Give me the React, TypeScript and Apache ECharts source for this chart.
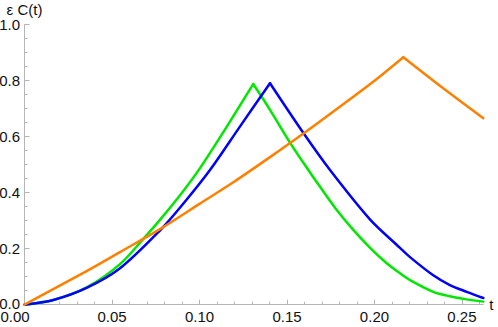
import React, { useEffect, useRef } from "react";
import * as echarts from "echarts";

const X_MAX = 0.2622;
const X_MAJOR = [0, 0.05, 0.1, 0.15, 0.2, 0.25];
const X_MINOR = [0.01, 0.02, 0.03, 0.04, 0.06, 0.07, 0.08, 0.09, 0.11, 0.12, 0.13, 0.14, 0.16, 0.17, 0.18, 0.19, 0.21, 0.22, 0.23, 0.24, 0.26];

const tGreen = [0, 0.0165, 0.0355, 0.0546, 0.0683, 0.0774, 0.09, 0.1, 0.115, 0.1307, 0.1403, 0.1517, 0.1622, 0.1689, 0.178, 0.1879, 0.1975, 0.207, 0.2146, 0.2203, 0.2336, 0.2431, 0.2527, 0.2622];
const vGreen = [0, 0.017, 0.062, 0.145, 0.238, 0.303, 0.40, 0.485, 0.63, 0.788, 0.696, 0.579, 0.481, 0.421, 0.342, 0.267, 0.203, 0.148, 0.112, 0.088, 0.046, 0.03, 0.019, 0.011];

const tBlue = [0, 0.0165, 0.0355, 0.0546, 0.0774, 0.09, 0.106, 0.1231, 0.1403, 0.1593, 0.1746, 0.1974, 0.2146, 0.2203, 0.2336, 0.2431, 0.2527, 0.2622];
const vBlue = [0, 0.017, 0.06, 0.13, 0.265, 0.355, 0.481, 0.636, 0.791, 0.614, 0.481, 0.305, 0.203, 0.17, 0.105, 0.07, 0.046, 0.024];

const tOrange = [0, 0.0355, 0.0546, 0.0774, 0.1, 0.12, 0.1403, 0.16, 0.18, 0.2, 0.2165, 0.2393, 0.2622];
const vOrange = [0, 0.12, 0.188, 0.27, 0.36, 0.44, 0.527, 0.614, 0.706, 0.8, 0.884, 0.773, 0.666];

const SERIES = [
  { t: tGreen, v: vGreen, color: "#00e800" },
  { t: tBlue, v: vBlue, color: "#0000ff" },
  { t: tOrange, v: vOrange, color: "#ff8000" },
];

// split a curve at its peak so the peak stays a sharp corner while each side is smoothed
const splitAtPeak = (t: number[], v: number[]) => {
  let k = 0;
  v.forEach((y, i) => {
    if (y > v[k]) k = i;
  });
  const pts = t.map((x, i) => [x, v[i]]);
  return [pts.slice(0, k + 1), pts.slice(k)];
};

const FONT = "'Liberation Sans', Arial, sans-serif";
const AXIS_COLOR = "#b5b5b5";
const TEXT_COLOR = "#111111";
const FS = 15;

export default function App() {
  const ref = useRef<HTMLDivElement>(null);
  useEffect(() => {
    if (!ref.current) return;
    const chart = echarts.init(ref.current, undefined, { renderer: "svg" });
    const series: any[] = [];
    SERIES.forEach((s) => {
      splitAtPeak(s.t, s.v).forEach((part) => {
        series.push({
          type: "line",
          data: part,
          showSymbol: false,
          smooth: 0.3,
          lineStyle: { color: s.color, width: 2.5, cap: "round", join: "miter" },
          itemStyle: { color: s.color },
        });
      });
    });
    chart.setOption({
      animation: false,
      backgroundColor: "#ffffff",
      grid: { left: 24.5, right: 14.7, top: 24.7, bottom: 22.3, containLabel: false, outerBoundsMode: "none" },
      xAxis: [
        {
          type: "value",
          min: 0,
          max: X_MAX,
          name: "t",
          nameLocation: "end",
          nameGap: 6,
          nameTextStyle: { fontFamily: FONT, fontSize: FS, color: TEXT_COLOR, verticalAlign: "middle" },
          axisLine: { show: true, onZero: false, lineStyle: { color: AXIS_COLOR, width: 1 } },
          axisTick: { show: true, inside: true, length: 5, customValues: X_MAJOR, lineStyle: { color: AXIS_COLOR } },
          axisLabel: {
            show: true,
            customValues: X_MAJOR,
            margin: 6.5,
            fontFamily: FONT,
            fontSize: FS,
            lineHeight: 11,
            color: TEXT_COLOR,
            formatter: (v: number) => (v === 0 ? "{first|0.00}" : v.toFixed(2)),
            rich: {
              first: { fontFamily: FONT, fontSize: FS, lineHeight: 11, color: TEXT_COLOR, padding: [0, 19, 0, 0] },
            },
          },
          splitLine: { show: false },
        },
        {
          type: "value",
          min: 0,
          max: X_MAX,
          position: "bottom",
          axisLine: { show: false },
          axisTick: { show: true, inside: true, length: 3, customValues: X_MINOR, lineStyle: { color: AXIS_COLOR } },
          axisLabel: { show: false },
          splitLine: { show: false },
        },
      ],
      yAxis: {
        type: "value",
        min: 0,
        max: 1,
        interval: 0.2,
        name: "ε C(t)",
        nameLocation: "end",
        nameGap: 7,
        nameTextStyle: { fontFamily: FONT, fontSize: FS, color: TEXT_COLOR },
        axisLine: { show: true, onZero: false, lineStyle: { color: AXIS_COLOR, width: 1 } },
        axisTick: { show: true, inside: true, length: 5, lineStyle: { color: AXIS_COLOR } },
        minorTick: { show: true, splitNumber: 4, length: 3, lineStyle: { color: AXIS_COLOR } },
        axisLabel: {
          margin: 4.5,
          fontFamily: FONT,
          fontSize: FS,
          lineHeight: 11,
          color: TEXT_COLOR,
          formatter: (v: number) => (v === 0 ? "{zero|0.0}" : v.toFixed(1)),
          rich: {
            zero: { fontFamily: FONT, fontSize: FS, lineHeight: 11, color: TEXT_COLOR, padding: [0, 0, 3, 0] },
          },
        },
        splitLine: { show: false },
        minorSplitLine: { show: false },
      },
      series,
    });
    return () => chart.dispose();
  }, []);
  return (
    <div
      ref={ref}
      style={{ position: "fixed", left: 0, top: 0, width: 498, height: 327, background: "#fff" }}
    />
  );
}
